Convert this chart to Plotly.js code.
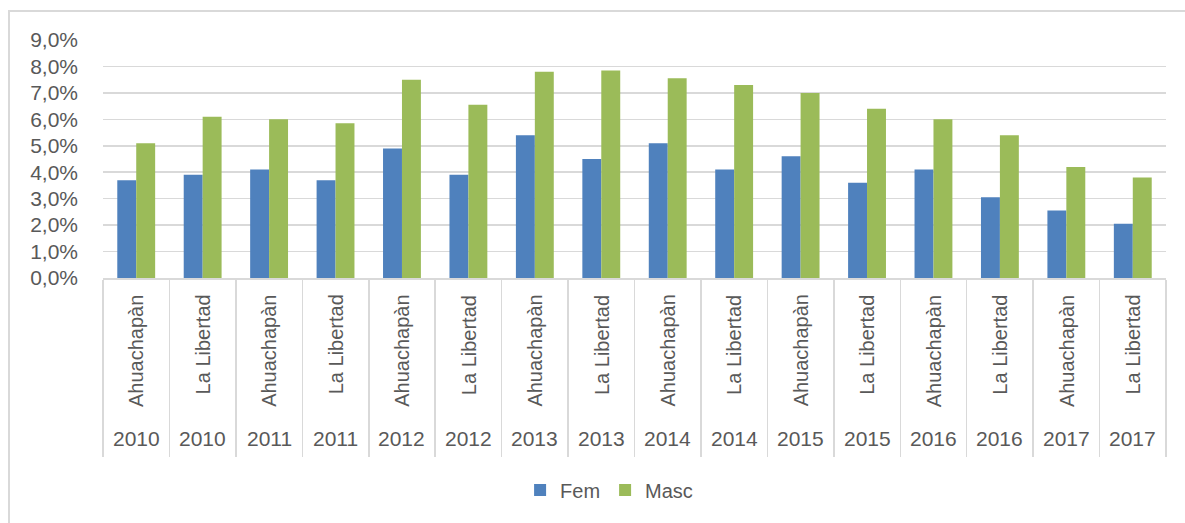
<!DOCTYPE html>
<html>
<head>
<meta charset="utf-8">
<script src="https://cdn.plot.ly/plotly-3.0.1.min.js"></script>
<style>
html,body{margin:0;padding:0;background:#fff;}
#wrap{position:relative;width:1185px;height:523px;overflow:hidden;}
#chart{width:1185px;height:523px;}
#frame{position:absolute;left:8px;top:10px;width:1200px;height:600px;border:2px solid #d9d9d9;box-sizing:border-box;pointer-events:none;}
</style>
</head>
<body>
<div id="wrap"><div id="chart"></div><div id="frame"></div></div>
<script>
const years = ["2010","2010","2011","2011","2012","2012","2013","2013","2014","2014","2015","2015","2016","2016","2017","2017"];
const districts = ["Ahuachapàn","La Libertad","Ahuachapàn","La Libertad","Ahuachapàn","La Libertad","Ahuachapàn","La Libertad","Ahuachapàn","La Libertad","Ahuachapàn","La Libertad","Ahuachapàn","La Libertad","Ahuachapàn","La Libertad"];
const fem  = [3.7, 3.9, 4.1, 3.7, 4.9, 3.9, 5.4, 4.5, 5.1, 4.1, 4.6, 3.6, 4.1, 3.05, 2.55, 2.05];
const masc = [5.1, 6.1, 6.0, 5.85, 7.5, 6.55, 7.8, 7.85, 7.55, 7.3, 7.0, 6.4, 6.0, 5.4, 4.2, 3.8];
const seriesNames = ["Fem","Masc"];
const yTicks = [0,1,2,3,4,5,6,7,8,9];
const yTickText = ["0,0%","1,0%","2,0%","3,0%","4,0%","5,0%","6,0%","7,0%","8,0%","9,0%"];

const cats = years.map((y,i) => y + " " + districts[i]);
const font = "Liberation Sans, Arial, sans-serif";
const grey = "#595959";

const traces = [
  {type:"bar", name:seriesNames[0], x:cats, y:fem, marker:{color:"#4f81bd"}},
  {type:"bar", name:seriesNames[1], x:cats, y:masc, marker:{color:"#9bbb59"}}
];

const annotations = [];
cats.forEach((c,i) => {
  annotations.push({x:c, xref:"x", y:-0.062, yref:"paper", yanchor:"top", xanchor:"center",
    text:districts[i], textangle:-90, showarrow:false, font:{family:font, size:20, color:grey}});
  annotations.push({x:c, xref:"x", y:-0.674, yref:"paper", yanchor:"middle", xanchor:"center",
    text:years[i], showarrow:false, font:{family:font, size:21, color:grey}});
});

const layout = {
  width:1185, height:523,
  margin:{l:103, r:19, t:40, b:245.3},
  paper_bgcolor:"#fff", plot_bgcolor:"#fff",
  font:{family:font, size:20, color:grey},
  barmode:"group", bargap:0.43, bargroupgap:0,
  showlegend:true,
  legend:{orientation:"h", xref:"container", yref:"container", x:0.514, xanchor:"center", y:0.063, yanchor:"middle",
    font:{family:font, size:20, color:grey}, itemwidth:30},
  xaxis:{type:"category", showticklabels:false, tickson:"boundaries", ticks:"outside", ticklen:177,
    tickcolor:"#d9d9d9", tickwidth:1.5, showline:true, linecolor:"#d9d9d9", linewidth:1.5, showgrid:false,
    fixedrange:true},
  yaxis:{range:[0,9], tickmode:"array", tickvals:yTicks, ticktext:yTickText, showgrid:true, gridcolor:"#d9d9d9",
    gridwidth:1.5, zeroline:false, showline:false, ticklabelstandoff:24,
    tickfont:{family:font, size:21, color:grey}, fixedrange:true},
  annotations:annotations
};

Plotly.newPlot("chart", traces, layout, {displayModeBar:false, staticPlot:true});
</script>
</body>
</html>
